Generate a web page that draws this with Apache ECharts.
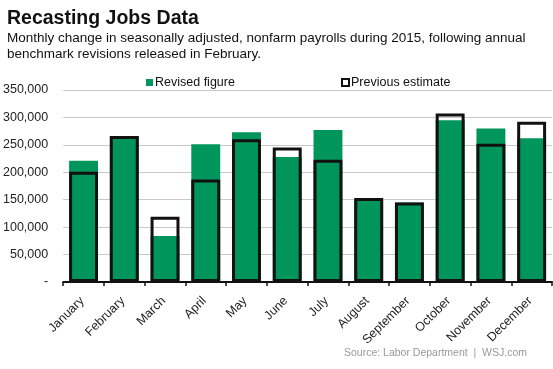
<!DOCTYPE html>
<html>
<head>
<meta charset="utf-8">
<script src="https://cdn.jsdelivr.net/npm/echarts@6/dist/echarts.min.js"></script>
<style>
html,body{margin:0;padding:0;background:#fff;}
#c{width:553px;height:369px;}
</style>
</head>
<body>
<div id="c"></div>
<script>
const months = ["January","February","March","April","May","June","July","August","September","October","November","December"];
const revised = [221000,265000,84000,251000,273000,228000,277000,150000,145000,295000,280000,262000];
const previous = [201000,266000,119000,187000,260000,245000,223000,153000,145000,307000,252000,292000];
const yTicks = [0,50000,100000,150000,200000,250000,300000,350000];

const chart = echarts.init(document.getElementById('c'), null, {renderer:'canvas'});
const FONT = '"Liberation Sans", Arial, sans-serif';
chart.setOption({
  animation:false,
  backgroundColor:'#fff',
  title:{
    left:7, top:9, padding:0,
    text:'Recasting Jobs Data',
    textStyle:{fontFamily:FONT, fontWeight:'bold', fontSize:19.5, color:'#111'},
    subtext:'Monthly change in seasonally adjusted, nonfarm payrolls during 2015, following annual\nbenchmark revisions released in February.',
    subtextStyle:{fontFamily:FONT, fontSize:13.5, color:'#111', lineHeight:16.5},
    itemGap:1
  },
  graphic:[{
    type:'text', right:26, top:348,
    style:{text:'Source: Labor Department  |  WSJ.com', font:'10.5px "Liberation Sans", Arial, sans-serif', fill:'#999'}
  }],
  legend:[{
    left:141, top:71, itemWidth:7, itemHeight:7, itemGap:4,
    textStyle:{fontFamily:FONT, fontSize:12.5, color:'#111', padding:[0,0,0,-3]},
    data:[{name:'Revised figure', icon:'rect'}]
  },{
    left:336, top:71, itemWidth:7, itemHeight:7,
    textStyle:{fontFamily:FONT, fontSize:12.5, color:'#111', padding:[0,0,0,-3]},
    data:[{name:'Previous estimate', icon:'rect', itemStyle:{color:'#fff', borderColor:'#111', borderWidth:2}}]
  }],
  grid:{left:63, right:1, top:90, bottom:87},
  xAxis:{
    type:'category', data:months,
    axisLine:{lineStyle:{color:'#111', width:2}},
    axisTick:{show:true, length:4, lineStyle:{color:'#111', width:1.5}},
    axisLabel:{rotate:45, fontFamily:FONT, fontSize:12.5, color:'#222', margin:15.5, interval:0, padding:[0,2,0,0]}
  },
  yAxis:{
    type:'value', min:0, max:350000, interval:50000,
    axisLine:{show:false}, axisTick:{show:false},
    splitLine:{lineStyle:{color:'#c8c8c8', width:1}},
    axisLabel:{fontFamily:FONT, fontSize:12.5, color:'#222', margin:15,
      formatter:function(v){ return v===0 ? '-' : v.toLocaleString('en-US'); }}
  },
  series:[{
    name:'Revised figure', type:'bar', data:revised, barWidth:'71%', barGap:'-100%',
    itemStyle:{color:'#00965b'}, z:2
  },{
    name:'Previous estimate', type:'bar', data:previous, barWidth:'71%', barGap:'-100%',
    itemStyle:{color:'rgba(0,0,0,0)', borderColor:'#111', borderWidth:3}, z:3
  }]
});
</script>
</body>
</html>
